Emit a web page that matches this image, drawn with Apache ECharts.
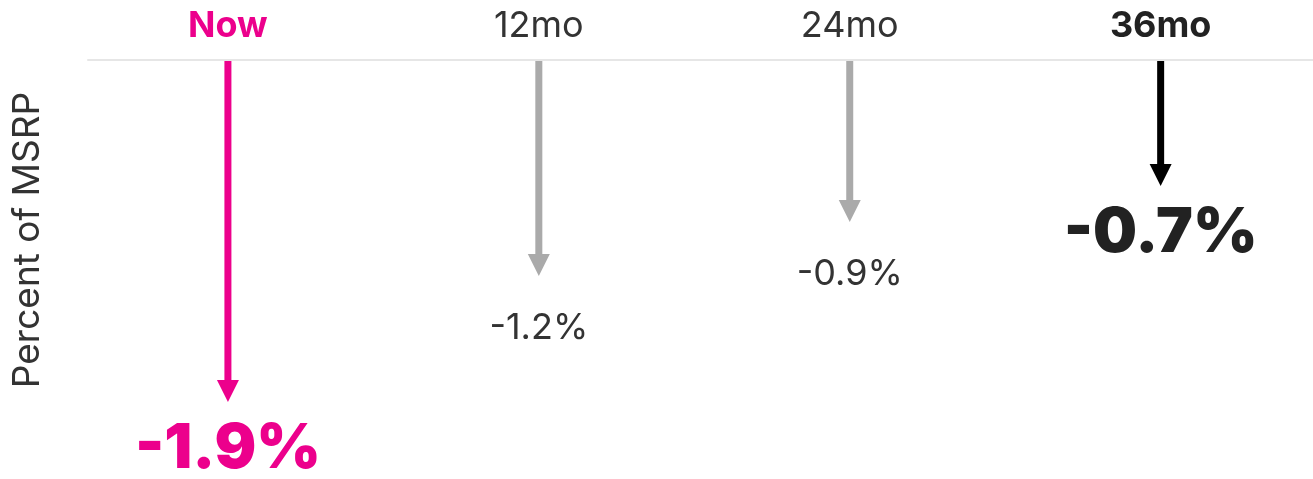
<!DOCTYPE html>
<html>
<head>
<meta charset="utf-8">
<style>
  html, body { margin: 0; padding: 0; background: #ffffff; }
  #chart { width: 1313px; height: 479px; }
</style>
<script src="https://cdn.jsdelivr.net/npm/echarts@6/dist/echarts.min.js"></script>
</head>
<body>
<div id="chart"></div>
<script>
// Change in price as a percent of MSRP, by horizon
const categories = ['Now', '12mo', '24mo', '36mo'];
const changes = [-1.9, -1.2, -0.9, -0.7];
const valueLabels = ['-1.9%', '-1.2%', '-0.9%', '-0.7%'];
const axisTitle = 'Percent of MSRP';

const PINK = '#ec008c';
const GREY = '#aaaaaa';
const FONT = 'Inter, "Liberation Sans", Arial, sans-serif';

// Per-horizon look: the current value and the 36-month value are emphasised
const looks = {
  'Now':  { arrow: PINK,   label: PINK,   strong: true },
  '12mo': { arrow: GREY,   label: '#333', strong: false },
  '24mo': { arrow: GREY,   label: '#333', strong: false },
  '36mo': { arrow: '#000', label: '#222', strong: true }
};

const seriesData = categories.map((c, i) => [i, changes[i]]);

function renderArrow(params, api) {
  const i = api.value(0);
  const v = api.value(1);
  const look = looks[categories[i]];
  const base = api.coord([i, 0]);
  const tip = api.coord([i, v]);
  const headH = 22, headHalf = 11, shaft = 7;
  return {
    type: 'group',
    children: [
      {
        type: 'rect',
        shape: { x: base[0] - shaft / 2, y: base[1] + 1, width: shaft, height: tip[1] - headH - base[1] },
        style: { fill: look.arrow }
      },
      {
        type: 'polygon',
        shape: { points: [[tip[0] - headHalf, tip[1] - headH], [tip[0] + headHalf, tip[1] - headH], [tip[0], tip[1]]] },
        style: { fill: look.arrow }
      },
      {
        type: 'text',
        x: tip[0],
        y: tip[1] + (look.strong ? 16 : 34),
        style: {
          text: valueLabels[i],
          fill: look.label,
          fontFamily: FONT,
          fontSize: look.strong ? 62 : 36,
          fontWeight: look.strong ? 900 : 400,
          align: 'center',
          verticalAlign: 'top',
          textAlign: 'center',
          textVerticalAlign: 'top'
        }
      }
    ]
  };
}

const chart = echarts.init(document.getElementById('chart'), null, { renderer: 'canvas' });
chart.setOption({
  animation: false,
  backgroundColor: '#ffffff',
  grid: { left: 88, right: 0, top: 60, bottom: 59, containLabel: false },
  xAxis: {
    type: 'value',
    position: 'top',
    min: -0.45,
    max: 3.49,
    axisLine: { show: true, lineStyle: { color: '#e6e6e6', width: 2 } },
    axisTick: { show: false },
    splitLine: { show: false },
    axisLabel: {
      customValues: [0, 1, 2, 3],
      margin: 16,
      formatter: function (val) {
        const name = categories[Math.round(val)];
        if (name === 'Now') return '{now|' + name + '}';
        if (name === '36mo') return '{key|' + name + '}';
        return '{plain|' + name + '}';
      },
      rich: {
        now: { color: PINK, fontFamily: FONT, fontSize: 36, fontWeight: 'bold' },
        key: { color: '#222', fontFamily: FONT, fontSize: 36, fontWeight: 'bold' },
        plain: { color: '#333', fontFamily: FONT, fontSize: 36, fontWeight: 'normal' }
      }
    }
  },
  yAxis: {
    type: 'value',
    min: -2,
    max: 0,
    name: axisTitle,
    nameLocation: 'middle',
    nameGap: 42,
    nameTextStyle: { color: '#333', fontFamily: FONT, fontSize: 37 },
    axisLine: { show: false },
    axisTick: { show: false },
    axisLabel: { show: false },
    splitLine: { show: false }
  },
  series: [{
    type: 'custom',
    clip: false,
    renderItem: renderArrow,
    data: seriesData,
    encode: { x: 0, y: 1 }
  }]
});
</script>
</body>
</html>
